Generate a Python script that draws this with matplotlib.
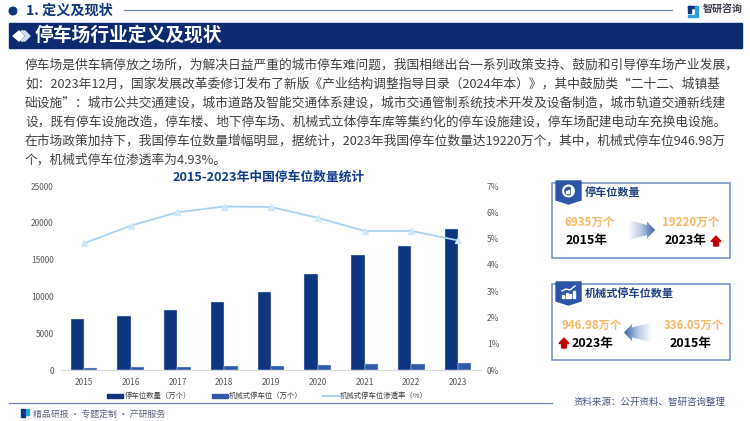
import numpy as np
import matplotlib.pyplot as plt
from matplotlib.patches import Polygon, Rectangle, Circle, Wedge
from matplotlib.path import Path
from matplotlib.patches import PathPatch
from matplotlib.colors import LinearSegmentedColormap

plt.rcParams['font.family'] = ['Noto Sans CJK SC', 'DejaVu Sans']

years = ['2015', '2016', '2017', '2018', '2019', '2020', '2021', '2022', '2023']
spaces = [6935, 7380, 8110, 9200, 10640, 13000, 15670, 16890, 19220]
mech_spaces = [336.05, 380, 430, 500, 570, 650, 770, 800, 946.98]
mech_rate = [4.82, 5.49, 6.0, 6.22, 6.2, 5.79, 5.29, 5.29, 4.93]
left_ticks = [0, 5000, 10000, 15000, 20000, 25000]
right_ticks = [0, 1, 2, 3, 4, 5, 6, 7]

body_lines = [
    '停车场是供车辆停放之场所，为解决日益严重的城市停车难问题，我国相继出台一系列政策支持、鼓励和引导停车场产业发展，',
    '如：2023年12月，国家发展改革委修订发布了新版《产业结构调整指导目录（2024年本）》，其中鼓励类“二十二、城镇基',
    '础设施”：城市公共交通建设，城市道路及智能交通体系建设，城市交通管制系统技术开发及设备制造，城市轨道交通新线建',
    '设，既有停车设施改造，停车楼、地下停车场、机械式立体停车库等集约化的停车设施建设，停车场配建电动车充换电设施。',
    '在市场政策加持下，我国停车位数量增幅明显，据统计，2023年我国停车位数量达19220万个，其中，机械式停车位946.98万',
    '个，机械式停车位渗透率为4.93%。',
]

NAVY = '#0D3580'
MID = '#2F5AA8'
LIGHT = '#A9D3F0'
ORANGE = '#F9B867'

fig = plt.figure(figsize=(7.5, 4.21), dpi=100)

# --- page furniture, drawn in pixel coordinates ---
bg = fig.add_axes([0, 0, 1, 1], zorder=0)
bg.set_xlim(0, 750)
bg.set_ylim(421, 0)
bg.axis('off')

bg.add_patch(Circle((13, 11), 3.8, color=NAVY))
bg.text(26, 11, '1. 定义及现状', fontsize=10.2, fontweight='bold', color=NAVY, va='center')
bg.plot([124, 672], [10, 10], color='#6F86B8', lw=0.9)

# logo top right
bg.add_patch(Rectangle((688, 6), 7, 2, color=NAVY))
bg.add_patch(Rectangle((688, 6), 2.5, 7, color=NAVY))
bg.add_patch(Rectangle((694.5, 6), 3, 9, color='#29A0E0'))
bg.add_patch(Rectangle((688, 15), 9.5, 2, color='#29A0E0'))
bg.text(703, 10, '智研咨询', fontsize=7.2, fontweight='bold', color='#3A3F4A', va='center')

# title banner
bg.add_patch(Rectangle((9, 23), 733, 25, color='#0B2A6F'))
bg.add_patch(Polygon([[13, 36], [19, 31], [24, 36], [19, 41]], color='white'))
bg.add_patch(Polygon([[21, 31], [25, 31], [30, 36], [25, 41], [21, 41], [26, 36]], color='#D5DCEB'))
bg.text(35, 35.5, '停车场行业定义及现状', fontsize=13.5, fontweight='bold', color='white', va='center')

for i, line in enumerate(body_lines):
    bg.text(25, 65.5 + i * 18.9, line, fontsize=9.15, color='#404040', va='center')

bg.text(269, 177, '2015-2023年中国停车位数量统计', fontsize=9.2, fontweight='bold', color='#103A8C',
        ha='center', va='center')

# footer
bg.plot([9, 552], [403, 403], color='#6F86B8', lw=0.9)
bg.add_patch(Rectangle((21, 409), 3.5, 8, color=NAVY))
bg.add_patch(Rectangle((26, 408.5), 3, 6, color='#29A0E0'))
bg.text(33, 414, '精品研报 · 专题定制 · 产研服务', fontsize=6.4, color='#5A6480', va='center')
bg.text(574, 402, '资料来源：公开资料、智研咨询整理', fontsize=6.8, color='#46547E', va='center')

# legend
bg.add_patch(Rectangle((107, 394), 16, 4, color=NAVY))
bg.text(124.5, 396, '停车位数量（万个）', fontsize=5.3, color='#404040', va='center')
bg.add_patch(Rectangle((212, 394), 16, 4, color=MID))
bg.text(228.5, 396, '机械式停车位（万个）', fontsize=5.3, color='#404040', va='center')
bg.plot([323, 339], [396, 396], color=LIGHT, lw=1.6)
bg.text(340, 396, '机械式停车位渗透率（%）', fontsize=5.3, color='#404040', va='center')


def gradient_arrow(x0, x1, ymid, half, reverse=False):
    # arrow fading from white at the tail to blue at the head
    cmap = LinearSegmentedColormap.from_list('fade', ['#FFFFFF', '#B9C8E2', '#3A62A8'])
    grad = np.linspace(0, 1, 64).reshape(1, -1)
    if reverse:
        grad = grad[:, ::-1]
    head = 8 if not reverse else -8
    x_tail, x_tip = (x1, x0) if reverse else (x0, x1)
    pts = [[x_tail, ymid - half], [x_tip - head, ymid - half * 0.5], [x_tip - head, ymid - half * 0.85],
           [x_tip, ymid], [x_tip - head, ymid + half * 0.85], [x_tip - head, ymid + half * 0.5],
           [x_tail, ymid + half], [x_tail, ymid - half]]
    im = bg.imshow(grad, cmap=cmap, extent=[x0, x1, ymid + half, ymid - half], aspect='auto', zorder=2)
    im.set_clip_path(PathPatch(Path(pts), transform=bg.transData))


def red_up(xc, ytop):
    bg.add_patch(Polygon([[xc, ytop], [xc + 5, ytop + 5.5], [xc + 2.4, ytop + 5.5], [xc + 2.4, ytop + 10],
                          [xc - 2.4, ytop + 10], [xc - 2.4, ytop + 5.5], [xc - 5, ytop + 5.5]],
                         color='#C00000', zorder=3))


def panel(top, bottom, title):
    bg.add_patch(Rectangle((552, top), 178, bottom - top, fc='white', ec='#6C8EC5', lw=1.1, zorder=1))
    badge = [[556, top - 2], [581, top - 2], [581, top + 17], [568.5, top + 21], [556, top + 17]]
    bg.add_patch(Polygon(badge, color='#2C55A8', zorder=2))
    bg.text(585, top + 9.5, title, fontsize=8, fontweight='bold', color='#1F3E82', va='center', zorder=3)


panel(183, 258, '停车位数量')
panel(284, 360, '机械式停车位数量')

# icon on the first badge: ring with small bars
bg.add_patch(Wedge((568.5, 191), 6.5, 0, 360, width=2.2, fc='white', zorder=3))
for bx, bh in zip([566, 568, 570.5], [2, 3.5, 5]):
    bg.add_patch(Rectangle((bx, 193 - bh), 1.4, bh, color='white', zorder=3))
# icon on the second badge: rising bars and arrow
for bx, bh in zip([562, 565.5, 569, 572.5], [3, 5, 4, 7]):
    bg.add_patch(Rectangle((bx, 298 - bh), 2.4, bh, color='white', zorder=3))
bg.plot([562, 566, 570, 575], [291, 289, 290, 286], color='white', lw=1, zorder=3)

bg.text(589.5, 222, '6935万个', fontsize=8.3, fontweight='bold', color=ORANGE, ha='center', va='center', zorder=3)
bg.text(587, 240.5, '2015年', fontsize=9, fontweight='bold', color='black', ha='center', va='center', zorder=3)
bg.text(690.5, 222, '19220万个', fontsize=8.3, fontweight='bold', color=ORANGE, ha='center', va='center', zorder=3)
bg.text(686, 240.5, '2023年', fontsize=9, fontweight='bold', color='black', ha='center', va='center', zorder=3)
red_up(716, 236)
gradient_arrow(628, 655, 230, 10)

bg.text(591.5, 325, '946.98万个', fontsize=8.2, fontweight='bold', color=ORANGE, ha='center', va='center', zorder=3)
bg.text(593, 343.5, '2023年', fontsize=9, fontweight='bold', color='black', ha='center', va='center', zorder=3)
bg.text(694, 325, '336.05万个', fontsize=8.2, fontweight='bold', color=ORANGE, ha='center', va='center', zorder=3)
bg.text(690.5, 343.5, '2015年', fontsize=9, fontweight='bold', color='black', ha='center', va='center', zorder=3)
red_up(564, 338)
gradient_arrow(624, 652, 332.5, 10, reverse=True)

bg.set_xlim(0, 750)
bg.set_ylim(421, 0)

# --- combo chart ---
ax = fig.add_axes([60.6 / 750, (421 - 370) / 421, 420.8 / 750, 184 / 421], zorder=2)
ax.patch.set_alpha(0)
x = np.arange(len(years))
w = 0.285
ax.bar(x - w / 2, spaces, w, color=NAVY, edgecolor='#DCE3F0', linewidth=0.3)
ax.bar(x + w / 2, mech_spaces, w, color=MID, edgecolor='#DCE3F0', linewidth=0.3)
ax.set_xlim(-0.5, 8.5)
ax.set_ylim(0, 25000)
ax.set_xticks(x, years)
ax.set_yticks(left_ticks)
ax.tick_params(length=0, labelsize=6, labelcolor='#595959')
ax.tick_params(axis='x', pad=6)
ax.tick_params(axis='y', pad=5)
for s in ['top', 'left', 'right']:
    ax.spines[s].set_visible(False)
ax.spines['bottom'].set_color('#D9D9D9')

ax2 = ax.twinx()
ax2.plot(x, mech_rate, color=LIGHT, lw=1.3, marker='^', ms=4, mfc='#D3E9F8', mec='#D3E9F8')
ax2.set_ylim(0, 7)
ax2.set_yticks(right_ticks, [f'{t}%' for t in right_ticks])
ax2.tick_params(length=0, labelsize=6, labelcolor='#595959', pad=4)
for s in ['top', 'left', 'right', 'bottom']:
    ax2.spines[s].set_visible(False)

fig.savefig('out.png', dpi=100)
